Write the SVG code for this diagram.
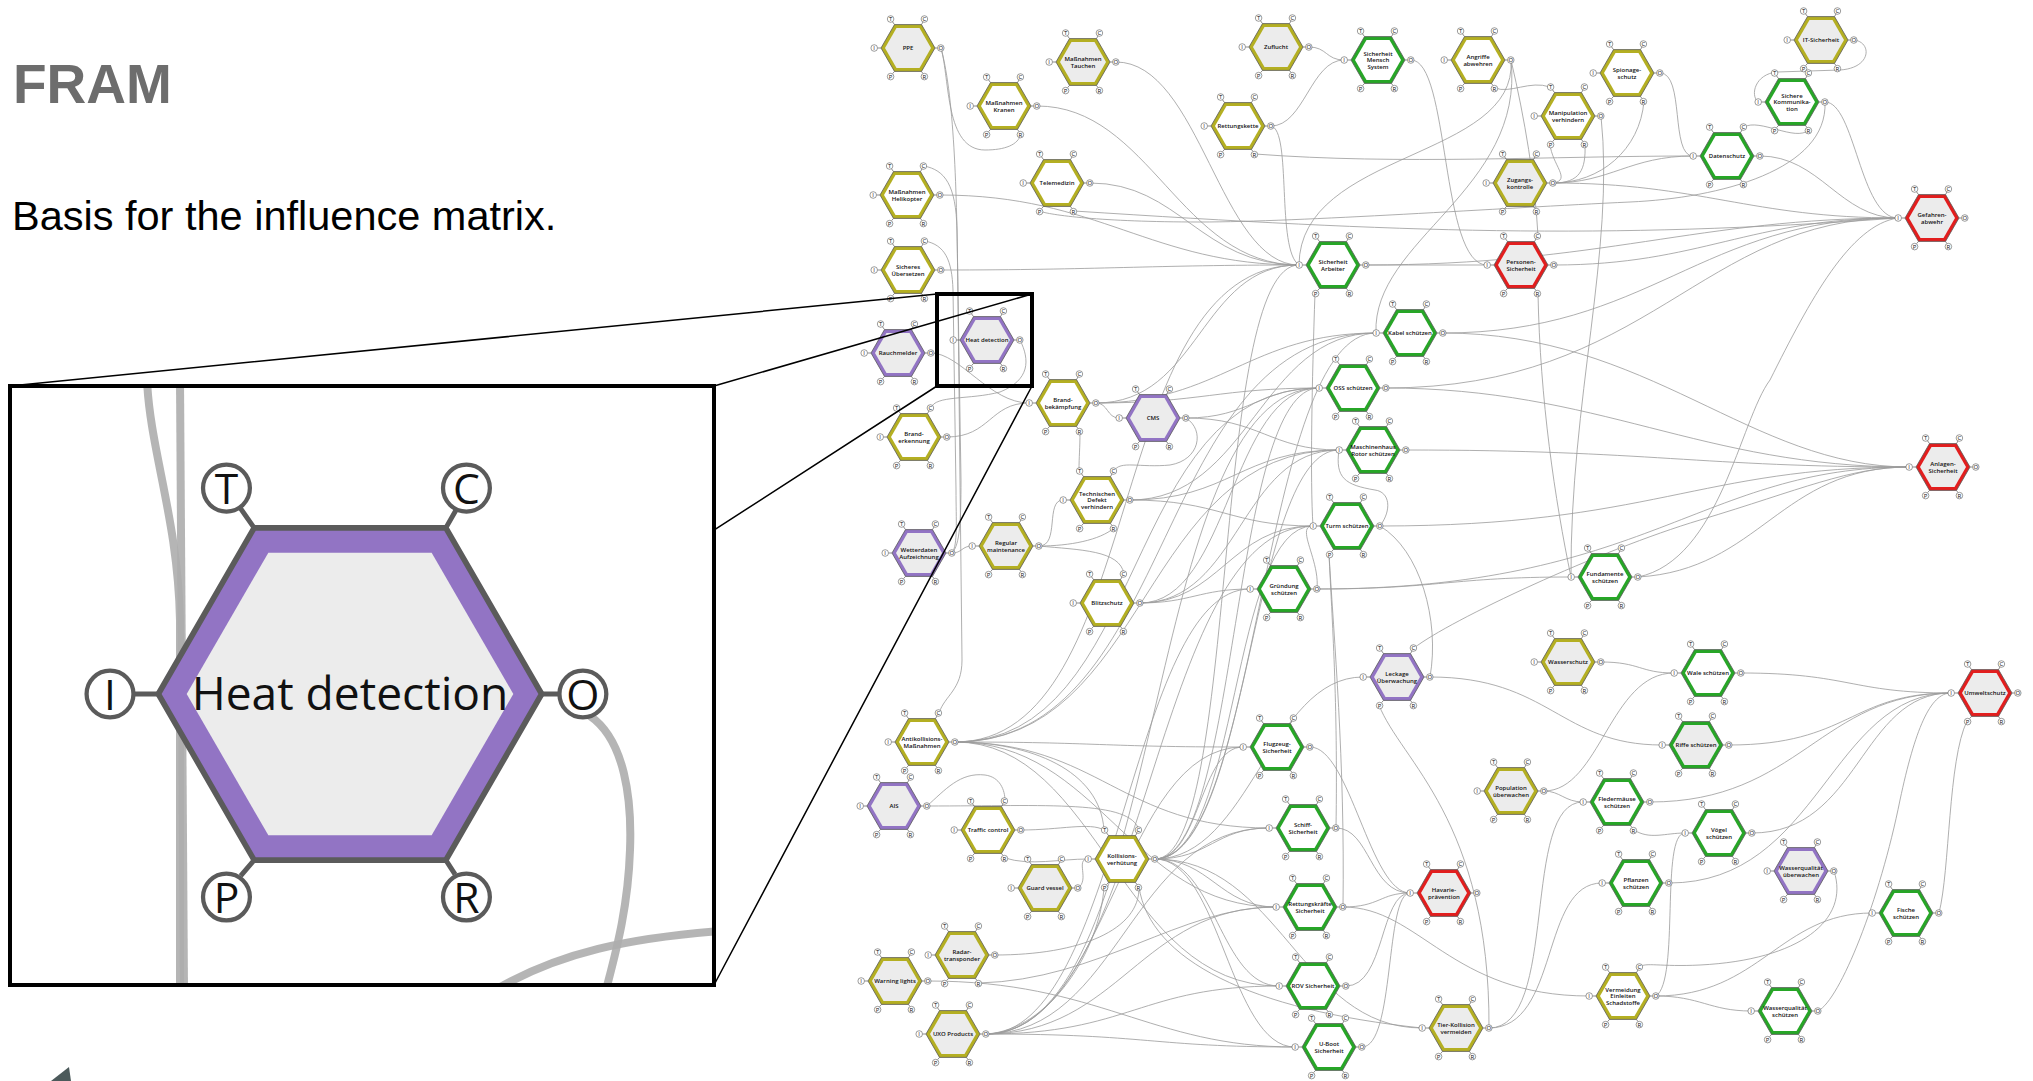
<svg xmlns="http://www.w3.org/2000/svg" xmlns:xlink="http://www.w3.org/1999/xlink" width="2033" height="1081" viewBox="0 0 2033 1081">
<style>
.y{fill:#b4af22}
.g{fill:#27a627}
.r{fill:#e21e1e}
.p{fill:#9274c4}
.f0{fill:#ececec}
.f1{fill:#ffffff}
.lb{font-family:"Open Sans","DejaVu Sans",sans-serif;font-size:6px;font-weight:600;text-anchor:middle;fill:#111}
.edges path{fill:none;stroke:#9c9c9c;stroke-width:.9;opacity:.9}
.mag{stroke:#000;fill:none}
.inset-edges path{fill:none;stroke:#adadad;stroke-width:8;opacity:.9}
</style>
<defs>
  <!-- function hexagon: outer band and inner face -->
  <path id="ho" d="M-27 0L-13.5-23.4H13.5L27 0L13.5 23.4H-13.5Z" stroke="#5b5b5b" stroke-width=".8" stroke-linejoin="round"/>
  <path id="hi" d="M-23 0L-11.5-19.9H11.5L23 0L11.5 19.9H-11.5Z"/>
  <!-- the six aspects: T C I O P R -->
  <g id="pt">
    <path d="M-27 0H-30.5M27 0H29.5M-13.5-23.4L-15.6-26.4M13.5-23.4L15.1-26.2M-13.5 23.4L-15.4 25.6M13.5 23.4L14.8 25.4" fill="none" stroke="#5b5b5b" stroke-width=".7"/>
    <g fill="#fff" stroke="#5b5b5b" stroke-width=".6">
      <circle cx="-17.4" cy="-29" r="3.3"/><circle cx="16.4" cy="-29" r="3.3"/>
      <circle cx="-33.8" cy="0" r="3.3"/><circle cx="32.8" cy="0" r="3.3"/>
      <circle cx="-17.4" cy="28.6" r="3.3"/><circle cx="16.4" cy="28.6" r="3.3"/>
    </g>
    <g font-family="Open Sans, DejaVu Sans, sans-serif" font-size="6" text-anchor="middle" fill="#111">
      <text x="-17.4" y="-26.8">T</text><text x="16.4" y="-26.8">C</text>
      <text x="-33.8" y="2.2">I</text><text x="32.8" y="2.2">O</text>
      <text x="-17.4" y="30.8">P</text><text x="16.4" y="30.8">R</text>
    </g>
  </g>
  <clipPath id="insetClip"><rect x="10" y="386" width="704" height="599"/></clipPath>
</defs>

<rect width="2033" height="1081" fill="#fff"/>

<text x="13" y="103" font-family="Liberation Sans, Arial, sans-serif" font-size="55" font-weight="bold" fill="#6d6d6d">FRAM</text>
<text x="12" y="230" font-family="Liberation Sans, Arial, sans-serif" font-size="41.5" fill="#000">Basis for the influence matrix.</text>

<g id="connectors" class="edges">
<path d="M1309 47C1327 47 1326 60 1344 60"/>
<path d="M1271 126C1304 126 1311 60 1344 60"/>
<path d="M1271 126C1292 130 1276 250 1299 265"/>
<path d="M1411 60C1450 60 1440 265 1487 265"/>
<path d="M1511 60C1525 190 1372 240 1376 333"/>
<path d="M1511 60C1518 160 1300 150 1299 265"/>
<path d="M1511 60C1525 120 1535 180 1538 236"/>
<path d="M1495 88C1510 94 1530 80 1550 87"/>
<path d="M1553 183C1572 180 1552 165 1550 144"/>
<path d="M1553 183C1580 183 1586 170 1585 144"/>
<path d="M1553 183C1610 183 1630 156 1693 156"/>
<path d="M1553 183C1600 183 1640 150 1644 101"/>
<path d="M1553 183C1700 183 1750 218 1898 218"/>
<path d="M1660 73C1685 73 1670 156 1693 156"/>
<path d="M1760 156C1820 156 1840 218 1898 218"/>
<path d="M1825 102C1855 102 1860 218 1898 218"/>
<path d="M1825 102C1828 170 1720 198 1630 202C1500 208 1300 222 1200 222C1100 222 1050 215 1039 211"/>
<path d="M1809 130C1795 142 1760 118 1744 127"/>
<path d="M1854 40C1872 42 1872 68 1840 70L1777 72C1755 74 1750 95 1758 102"/>
<path d="M1601 116C1615 250 1570 400 1571 577"/>
<path d="M1538 293C1540 400 1555 500 1571 577"/>
<path d="M1366 265L1487 265"/>
<path d="M1366 265C1600 265 1700 218 1898 218"/>
<path d="M1554 265C1700 265 1750 218 1898 218"/>
<path d="M1443 333C1650 333 1700 218 1898 218"/>
<path d="M1386 388C1650 388 1700 218 1898 218"/>
<path d="M1074 211C1400 232 1600 240 1898 218"/>
<path d="M1638 577C1720 560 1740 420 1770 380C1810 300 1850 225 1898 218"/>
<path d="M1638 577C1760 570 1780 467 1909 467"/>
<path d="M1443 333C1650 333 1750 467 1909 467"/>
<path d="M1386 388C1600 388 1700 467 1909 467"/>
<path d="M1406 450C1650 450 1700 467 1909 467"/>
<path d="M1380 526C1650 526 1700 467 1909 467"/>
<path d="M1317 589C1650 589 1700 467 1909 467"/>
<path d="M1317 589C1440 589 1450 577 1571 577"/>
<path d="M1380 526C1392 510 1390 492 1375 490C1345 485 1335 478 1339 450"/>
<path d="M1380 526C1420 550 1440 620 1430 677"/>
<path d="M1317 589C1320 560 1295 526 1313 526"/>
<path d="M1315 293C1312 380 1310 480 1313 526"/>
<path d="M1336 828C1338 700 1332 620 1329 554"/>
<path d="M1343 907C1345 760 1334 640 1329 554"/>
<path d="M941 48C950 80 945 150 985 150C1005 150 1018 145 1021 134"/>
<path d="M941 48C955 100 957 200 958 300L962 660C962 690 945 695 939 713"/>
<path d="M952 553C960 545 961 520 961 480L957 230C956 185 945 170 924 166"/>
<path d="M952 553C958 545 956 520 956 490L953 290C952 260 945 245 925 241"/>
<path d="M952 553C962 553 962 546 972 546"/>
<path d="M1116 62C1200 62 1220 265 1299 265"/>
<path d="M1037 106C1150 106 1180 265 1299 265"/>
<path d="M1090 183C1180 183 1200 265 1299 265"/>
<path d="M940 195C1100 195 1150 265 1299 265"/>
<path d="M941 270C1100 270 1150 265 1299 265"/>
<path d="M1255 154C1400 165 1550 156 1693 156"/>
<path d="M1020 340C1030 360 1030 380 1000 392C970 400 935 395 931 408"/>
<path d="M931 353C960 353 990 403 1029 403"/>
<path d="M947 437C990 437 990 403 1029 403"/>
<path d="M1096 403C1108 403 1107 418 1119 418"/>
<path d="M1096 403C1200 403 1220 388 1319 388"/>
<path d="M1096 403C1220 403 1250 333 1376 333"/>
<path d="M1096 403C1200 403 1200 265 1299 265"/>
<path d="M1080 431C1080 450 1079 455 1079 471"/>
<path d="M1186 418C1205 430 1200 460 1170 465C1140 468 1120 460 1114 471"/>
<path d="M1186 418C1250 418 1260 388 1319 388"/>
<path d="M1186 418C1260 418 1270 450 1339 450"/>
<path d="M1130 500C1230 500 1240 450 1339 450"/>
<path d="M1130 500C1220 500 1230 526 1313 526"/>
<path d="M1130 500C1250 500 1260 333 1376 333"/>
<path d="M1039 546C1060 546 1045 500 1063 500"/>
<path d="M1039 546C1070 546 1100 540 1114 528"/>
<path d="M1039 546C1080 550 1120 550 1124 574"/>
<path d="M1140 603C1220 603 1230 526 1313 526"/>
<path d="M1140 603C1190 603 1200 589 1250 589"/>
<path d="M1140 603C1230 603 1230 388 1319 388"/>
<path d="M1140 603C1240 603 1240 450 1339 450"/>
<path d="M955 742C1150 742 1120 388 1319 388"/>
<path d="M955 742C1180 742 1150 333 1376 333"/>
<path d="M955 742C1150 742 1100 265 1299 265"/>
<path d="M955 742C1100 742 1120 828 1269 828"/>
<path d="M955 742C1030 742 1100 770 1104 830"/>
<path d="M955 742C1100 742 1100 747 1243 747"/>
<path d="M955 742C1100 742 1130 907 1276 907"/>
<path d="M955 742C1150 742 1140 450 1339 450"/>
<path d="M955 742C1100 742 1120 986 1279 986"/>
<path d="M927 806C945 790 960 772 985 775C1000 777 1005 790 1005 801"/>
<path d="M927 806C1050 806 1130 800 1139 830"/>
<path d="M1021 830C1060 830 1090 822 1104 830"/>
<path d="M1005 858C1030 866 1060 859 1088 859"/>
<path d="M1078 888C1090 880 1075 859 1088 859"/>
<path d="M995 955C1080 955 1140 930 1139 887"/>
<path d="M979 983C1100 980 1180 907 1276 907"/>
<path d="M928 981C1100 981 1150 1047 1295 1047"/>
<path d="M986 1034C1150 1034 1150 1047 1295 1047"/>
<path d="M986 1034C1130 1034 1140 986 1279 986"/>
<path d="M986 1034C1120 1034 1140 907 1276 907"/>
<path d="M986 1034C1120 1034 1130 828 1269 828"/>
<path d="M986 1034C1110 1034 1120 747 1243 747"/>
<path d="M986 1034C1150 1034 1150 526 1313 526"/>
<path d="M986 1034C1170 1034 1140 388 1319 388"/>
<path d="M986 1034C1120 1034 1130 589 1250 589"/>
<path d="M986 1034C1050 1030 1100 950 1104 887"/>
<path d="M1155 859C1240 859 1230 388 1319 388"/>
<path d="M1155 859C1260 859 1260 333 1376 333"/>
<path d="M1155 859C1250 859 1250 450 1339 450"/>
<path d="M1155 859C1240 859 1230 526 1313 526"/>
<path d="M1155 859C1240 859 1210 265 1299 265"/>
<path d="M1155 859C1200 859 1200 747 1243 747"/>
<path d="M1155 859C1210 859 1215 828 1269 828"/>
<path d="M1155 859C1210 859 1220 907 1276 907"/>
<path d="M1155 859C1215 859 1220 986 1279 986"/>
<path d="M1155 859C1220 859 1230 1047 1295 1047"/>
<path d="M1155 859C1280 859 1300 1028 1422 1028"/>
<path d="M1155 859C1250 859 1270 677 1363 677"/>
<path d="M1139 887C1150 960 1250 1010 1422 1028"/>
<path d="M1310 747C1350 747 1370 893 1410 893"/>
<path d="M1336 828C1370 828 1370 893 1410 893"/>
<path d="M1343 907C1380 907 1380 893 1410 893"/>
<path d="M1346 986C1385 986 1380 893 1410 893"/>
<path d="M1362 1047C1395 1047 1385 893 1410 893"/>
<path d="M1343 907C1420 907 1450 996 1589 996"/>
<path d="M1489 1028C1560 1028 1540 883 1602 883"/>
<path d="M1489 1028C1560 1028 1520 802 1583 802"/>
<path d="M1489 1028C1490 820 1400 760 1379 705"/>
<path d="M1544 791C1560 791 1565 802 1583 802"/>
<path d="M1544 791C1600 791 1610 673 1674 673"/>
<path d="M1601 662C1640 662 1640 673 1674 673"/>
<path d="M1430 677C1550 677 1560 745 1662 745"/>
<path d="M1414 648C1450 620 1600 550 1700 520C1800 490 1850 467 1909 467"/>
<path d="M1741 673C1850 673 1850 693 1951 693"/>
<path d="M1729 745C1850 745 1850 693 1951 693"/>
<path d="M1650 802C1800 802 1820 693 1951 693"/>
<path d="M1752 833C1860 833 1860 693 1951 693"/>
<path d="M1669 883C1820 883 1830 693 1951 693"/>
<path d="M1818 1011C1840 1000 1880 900 1900 800C1915 730 1930 693 1951 693"/>
<path d="M1939 913C1950 870 1948 760 1967 721"/>
<path d="M1656 996C1680 980 1660 833 1685 833"/>
<path d="M1656 996C1700 996 1710 1011 1751 1011"/>
<path d="M1656 996C1760 996 1780 913 1872 913"/>
<path d="M1834 871C1850 920 1800 960 1700 965C1660 967 1645 962 1640 967"/>
<path d="M1634 830C1650 840 1665 833 1685 833"/>
</g>

<g id="nodes">
<g id="node-ppe" transform="translate(908 48)"><use href="#ho" class="y"/><use href="#hi" class="f0"/><use href="#pt"/><text class="lb" y="2">PPE</text></g>
<g id="node-massnahmen-tauchen" transform="translate(1083 62)"><use href="#ho" class="y"/><use href="#hi" class="f0"/><use href="#pt"/><text class="lb"><tspan x="0" y="-1.5">Maßnahmen</tspan><tspan x="0" y="5.5">Tauchen</tspan></text></g>
<g id="node-zuflucht" transform="translate(1276 47)"><use href="#ho" class="y"/><use href="#hi" class="f0"/><use href="#pt"/><text class="lb" y="2">Zuflucht</text></g>
<g id="node-sicherheit-mensch" transform="translate(1378 60)"><use href="#ho" class="g"/><use href="#hi" class="f1"/><use href="#pt"/><text class="lb"><tspan x="0" y="-4.5">Sicherheit</tspan><tspan x="0" y="2">Mensch</tspan><tspan x="0" y="8.5">System</tspan></text></g>
<g id="node-angriffe" transform="translate(1478 60)"><use href="#ho" class="y"/><use href="#hi" class="f1"/><use href="#pt"/><text class="lb"><tspan x="0" y="-1.5">Angriffe</tspan><tspan x="0" y="5.5">abwehren</tspan></text></g>
<g id="node-spionageschutz" transform="translate(1627 73)"><use href="#ho" class="y"/><use href="#hi" class="f1"/><use href="#pt"/><text class="lb"><tspan x="0" y="-1.5">Spionage-</tspan><tspan x="0" y="5.5">schutz</tspan></text></g>
<g id="node-it-sicherheit" transform="translate(1821 40)"><use href="#ho" class="y"/><use href="#hi" class="f0"/><use href="#pt"/><text class="lb" y="2">IT-Sicherheit</text></g>
<g id="node-sichere-kommunikation" transform="translate(1792 102)"><use href="#ho" class="g"/><use href="#hi" class="f1"/><use href="#pt"/><text class="lb"><tspan x="0" y="-4.5">Sichere</tspan><tspan x="0" y="2">Kommunika-</tspan><tspan x="0" y="8.5">tion</tspan></text></g>
<g id="node-datenschutz" transform="translate(1727 156)"><use href="#ho" class="g"/><use href="#hi" class="f1"/><use href="#pt"/><text class="lb" y="2">Datenschutz</text></g>
<g id="node-manipulation" transform="translate(1568 116)"><use href="#ho" class="y"/><use href="#hi" class="f1"/><use href="#pt"/><text class="lb"><tspan x="0" y="-1.5">Manipulation</tspan><tspan x="0" y="5.5">verhindern</tspan></text></g>
<g id="node-zugangskontrolle" transform="translate(1520 183)"><use href="#ho" class="y"/><use href="#hi" class="f0"/><use href="#pt"/><text class="lb"><tspan x="0" y="-1.5">Zugangs-</tspan><tspan x="0" y="5.5">kontrolle</tspan></text></g>
<g id="node-massnahmen-kranen" transform="translate(1004 106)"><use href="#ho" class="y"/><use href="#hi" class="f1"/><use href="#pt"/><text class="lb"><tspan x="0" y="-1.5">Maßnahmen</tspan><tspan x="0" y="5.5">Kranen</tspan></text></g>
<g id="node-rettungskette" transform="translate(1238 126)"><use href="#ho" class="y"/><use href="#hi" class="f1"/><use href="#pt"/><text class="lb" y="2">Rettungskette</text></g>
<g id="node-telemedizin" transform="translate(1057 183)"><use href="#ho" class="y"/><use href="#hi" class="f1"/><use href="#pt"/><text class="lb" y="2">Telemedizin</text></g>
<g id="node-massnahmen-helikopter" transform="translate(907 195)"><use href="#ho" class="y"/><use href="#hi" class="f1"/><use href="#pt"/><text class="lb"><tspan x="0" y="-1.5">Maßnahmen</tspan><tspan x="0" y="5.5">Helikopter</tspan></text></g>
<g id="node-sicheres-uebersetzen" transform="translate(908 270)"><use href="#ho" class="y"/><use href="#hi" class="f1"/><use href="#pt"/><text class="lb"><tspan x="0" y="-1.5">Sicheres</tspan><tspan x="0" y="5.5">Übersetzen</tspan></text></g>
<g id="node-sicherheit-arbeiter" transform="translate(1333 265)"><use href="#ho" class="g"/><use href="#hi" class="f1"/><use href="#pt"/><text class="lb"><tspan x="0" y="-1.5">Sicherheit</tspan><tspan x="0" y="5.5">Arbeiter</tspan></text></g>
<g id="node-personen-sicherheit" transform="translate(1521 265)"><use href="#ho" class="r"/><use href="#hi" class="f0"/><use href="#pt"/><text class="lb"><tspan x="0" y="-1.5">Personen-</tspan><tspan x="0" y="5.5">Sicherheit</tspan></text></g>
<g id="node-gefahrenabwehr" transform="translate(1932 218)"><use href="#ho" class="r"/><use href="#hi" class="f0"/><use href="#pt"/><text class="lb"><tspan x="0" y="-1.5">Gefahren-</tspan><tspan x="0" y="5.5">abwehr</tspan></text></g>
<g id="node-rauchmelder" transform="translate(898 353)"><use href="#ho" class="p"/><use href="#hi" class="f0"/><use href="#pt"/><text class="lb" y="2">Rauchmelder</text></g>
<g id="node-heat-detection" transform="translate(987 340)"><use href="#ho" class="p"/><use href="#hi" class="f0"/><use href="#pt"/><text class="lb" y="2">Heat detection</text></g>
<g id="node-kabel" transform="translate(1410 333)"><use href="#ho" class="g"/><use href="#hi" class="f1"/><use href="#pt"/><text class="lb" y="2">Kabel schützen</text></g>
<g id="node-oss" transform="translate(1353 388)"><use href="#ho" class="g"/><use href="#hi" class="f1"/><use href="#pt"/><text class="lb" y="2">OSS schützen</text></g>
<g id="node-brandbekaempfung" transform="translate(1063 403)"><use href="#ho" class="y"/><use href="#hi" class="f1"/><use href="#pt"/><text class="lb"><tspan x="0" y="-1.5">Brand-</tspan><tspan x="0" y="5.5">bekämpfung</tspan></text></g>
<g id="node-cms" transform="translate(1153 418)"><use href="#ho" class="p"/><use href="#hi" class="f0"/><use href="#pt"/><text class="lb" y="2">CMS</text></g>
<g id="node-branderkennung" transform="translate(914 437)"><use href="#ho" class="y"/><use href="#hi" class="f1"/><use href="#pt"/><text class="lb"><tspan x="0" y="-1.5">Brand-</tspan><tspan x="0" y="5.5">erkennung</tspan></text></g>
<g id="node-maschinenhaus" transform="translate(1373 450)"><use href="#ho" class="g"/><use href="#hi" class="f1"/><use href="#pt"/><text class="lb"><tspan x="0" y="-1.5">Maschinenhaus</tspan><tspan x="0" y="5.5">Rotor schützen</tspan></text></g>
<g id="node-anlagen-sicherheit" transform="translate(1943 467)"><use href="#ho" class="r"/><use href="#hi" class="f0"/><use href="#pt"/><text class="lb"><tspan x="0" y="-1.5">Anlagen-</tspan><tspan x="0" y="5.5">Sicherheit</tspan></text></g>
<g id="node-technischer-defekt" transform="translate(1097 500)"><use href="#ho" class="y"/><use href="#hi" class="f1"/><use href="#pt"/><text class="lb"><tspan x="0" y="-4.5">Technischen</tspan><tspan x="0" y="2">Defekt</tspan><tspan x="0" y="8.5">verhindern</tspan></text></g>
<g id="node-turm" transform="translate(1347 526)"><use href="#ho" class="g"/><use href="#hi" class="f1"/><use href="#pt"/><text class="lb" y="2">Turm schützen</text></g>
<g id="node-wetterdaten" transform="translate(919 553)"><use href="#ho" class="p"/><use href="#hi" class="f0"/><use href="#pt"/><text class="lb"><tspan x="0" y="-1.5">Wetterdaten</tspan><tspan x="0" y="5.5">Aufzeichnung</tspan></text></g>
<g id="node-maintenance" transform="translate(1006 546)"><use href="#ho" class="y"/><use href="#hi" class="f0"/><use href="#pt"/><text class="lb"><tspan x="0" y="-1.5">Regular</tspan><tspan x="0" y="5.5">maintenance</tspan></text></g>
<g id="node-blitzschutz" transform="translate(1107 603)"><use href="#ho" class="y"/><use href="#hi" class="f1"/><use href="#pt"/><text class="lb" y="2">Blitzschutz</text></g>
<g id="node-gruendung" transform="translate(1284 589)"><use href="#ho" class="g"/><use href="#hi" class="f1"/><use href="#pt"/><text class="lb"><tspan x="0" y="-1.5">Gründung</tspan><tspan x="0" y="5.5">schützen</tspan></text></g>
<g id="node-fundamente" transform="translate(1605 577)"><use href="#ho" class="g"/><use href="#hi" class="f1"/><use href="#pt"/><text class="lb"><tspan x="0" y="-1.5">Fundamente</tspan><tspan x="0" y="5.5">schützen</tspan></text></g>
<g id="node-leckage" transform="translate(1397 677)"><use href="#ho" class="p"/><use href="#hi" class="f0"/><use href="#pt"/><text class="lb"><tspan x="0" y="-1.5">Leckage</tspan><tspan x="0" y="5.5">Überwachung</tspan></text></g>
<g id="node-wasserschutz" transform="translate(1568 662)"><use href="#ho" class="y"/><use href="#hi" class="f0"/><use href="#pt"/><text class="lb" y="2">Wasserschutz</text></g>
<g id="node-wale" transform="translate(1708 673)"><use href="#ho" class="g"/><use href="#hi" class="f1"/><use href="#pt"/><text class="lb" y="2">Wale schützen</text></g>
<g id="node-umweltschutz" transform="translate(1985 693)"><use href="#ho" class="r"/><use href="#hi" class="f0"/><use href="#pt"/><text class="lb" y="2">Umweltschutz</text></g>
<g id="node-antikollision" transform="translate(922 742)"><use href="#ho" class="y"/><use href="#hi" class="f1"/><use href="#pt"/><text class="lb"><tspan x="0" y="-1.5">Antikollisions-</tspan><tspan x="0" y="5.5">Maßnahmen</tspan></text></g>
<g id="node-flugzeug" transform="translate(1277 747)"><use href="#ho" class="g"/><use href="#hi" class="f1"/><use href="#pt"/><text class="lb"><tspan x="0" y="-1.5">Flugzeug-</tspan><tspan x="0" y="5.5">Sicherheit</tspan></text></g>
<g id="node-ais" transform="translate(894 806)"><use href="#ho" class="p"/><use href="#hi" class="f0"/><use href="#pt"/><text class="lb" y="2">AIS</text></g>
<g id="node-traffic-control" transform="translate(988 830)"><use href="#ho" class="y"/><use href="#hi" class="f1"/><use href="#pt"/><text class="lb" y="2">Traffic control</text></g>
<g id="node-riffe" transform="translate(1696 745)"><use href="#ho" class="g"/><use href="#hi" class="f0"/><use href="#pt"/><text class="lb" y="2">Riffe schützen</text></g>
<g id="node-population" transform="translate(1511 791)"><use href="#ho" class="y"/><use href="#hi" class="f0"/><use href="#pt"/><text class="lb"><tspan x="0" y="-1.5">Population</tspan><tspan x="0" y="5.5">überwachen</tspan></text></g>
<g id="node-fledermaeuse" transform="translate(1617 802)"><use href="#ho" class="g"/><use href="#hi" class="f1"/><use href="#pt"/><text class="lb"><tspan x="0" y="-1.5">Fledermäuse</tspan><tspan x="0" y="5.5">schützen</tspan></text></g>
<g id="node-schiff" transform="translate(1303 828)"><use href="#ho" class="g"/><use href="#hi" class="f1"/><use href="#pt"/><text class="lb"><tspan x="0" y="-1.5">Schiff-</tspan><tspan x="0" y="5.5">Sicherheit</tspan></text></g>
<g id="node-kollisionsverhuetung" transform="translate(1122 859)"><use href="#ho" class="y"/><use href="#hi" class="f1"/><use href="#pt"/><text class="lb"><tspan x="0" y="-1.5">Kollisions-</tspan><tspan x="0" y="5.5">verhütung</tspan></text></g>
<g id="node-voegel" transform="translate(1719 833)"><use href="#ho" class="g"/><use href="#hi" class="f1"/><use href="#pt"/><text class="lb"><tspan x="0" y="-1.5">Vögel</tspan><tspan x="0" y="5.5">schützen</tspan></text></g>
<g id="node-guard-vessel" transform="translate(1045 888)"><use href="#ho" class="y"/><use href="#hi" class="f0"/><use href="#pt"/><text class="lb" y="2">Guard vessel</text></g>
<g id="node-pflanzen" transform="translate(1636 883)"><use href="#ho" class="g"/><use href="#hi" class="f1"/><use href="#pt"/><text class="lb"><tspan x="0" y="-1.5">Pflanzen</tspan><tspan x="0" y="5.5">schützen</tspan></text></g>
<g id="node-wasserqualitaet-ueberwachen" transform="translate(1801 871)"><use href="#ho" class="p"/><use href="#hi" class="f0"/><use href="#pt"/><text class="lb"><tspan x="0" y="-1.5">Wasserqualität</tspan><tspan x="0" y="5.5">überwachen</tspan></text></g>
<g id="node-havarie" transform="translate(1444 893)"><use href="#ho" class="r"/><use href="#hi" class="f0"/><use href="#pt"/><text class="lb"><tspan x="0" y="-1.5">Havarie-</tspan><tspan x="0" y="5.5">prävention</tspan></text></g>
<g id="node-rettungskraefte" transform="translate(1310 907)"><use href="#ho" class="g"/><use href="#hi" class="f1"/><use href="#pt"/><text class="lb"><tspan x="0" y="-1.5">Rettungskräfte</tspan><tspan x="0" y="5.5">Sicherheit</tspan></text></g>
<g id="node-fische" transform="translate(1906 913)"><use href="#ho" class="g"/><use href="#hi" class="f1"/><use href="#pt"/><text class="lb"><tspan x="0" y="-1.5">Fische</tspan><tspan x="0" y="5.5">schützen</tspan></text></g>
<g id="node-radar-transponder" transform="translate(962 955)"><use href="#ho" class="y"/><use href="#hi" class="f0"/><use href="#pt"/><text class="lb"><tspan x="0" y="-1.5">Radar-</tspan><tspan x="0" y="5.5">transponder</tspan></text></g>
<g id="node-warning-lights" transform="translate(895 981)"><use href="#ho" class="y"/><use href="#hi" class="f0"/><use href="#pt"/><text class="lb" y="2">Warning lights</text></g>
<g id="node-rov" transform="translate(1313 986)"><use href="#ho" class="g"/><use href="#hi" class="f1"/><use href="#pt"/><text class="lb" y="2">ROV Sicherheit</text></g>
<g id="node-vermeidung-schadstoffe" transform="translate(1623 996)"><use href="#ho" class="y"/><use href="#hi" class="f1"/><use href="#pt"/><text class="lb"><tspan x="0" y="-4.5">Vermeidung</tspan><tspan x="0" y="2">Einleiten</tspan><tspan x="0" y="8.5">Schadstoffe</tspan></text></g>
<g id="node-wasserqualitaet-schuetzen" transform="translate(1785 1011)"><use href="#ho" class="g"/><use href="#hi" class="f1"/><use href="#pt"/><text class="lb"><tspan x="0" y="-1.5">Wasserqualität</tspan><tspan x="0" y="5.5">schützen</tspan></text></g>
<g id="node-uxo" transform="translate(953 1034)"><use href="#ho" class="y"/><use href="#hi" class="f0"/><use href="#pt"/><text class="lb" y="2">UXO Products</text></g>
<g id="node-tier-kollision" transform="translate(1456 1028)"><use href="#ho" class="y"/><use href="#hi" class="f0"/><use href="#pt"/><text class="lb"><tspan x="0" y="-1.5">Tier-Kollision</tspan><tspan x="0" y="5.5">vermeiden</tspan></text></g>
<g id="node-u-boot" transform="translate(1329 1047)"><use href="#ho" class="g"/><use href="#hi" class="f1"/><use href="#pt"/><text class="lb"><tspan x="0" y="-1.5">U-Boot</tspan><tspan x="0" y="5.5">Sicherheit</tspan></text></g>
</g>

<!-- magnifier: guide lines from the detail frame to the enlarged view -->
<g id="magnifier-lines" class="mag" stroke-width="1.5">
  <path d="M10 386L937 294M714 386L1032 294M10 985L937 386M714 985L1032 386"/>
</g>
<rect id="detail-frame" class="mag" x="937" y="294" width="95" height="92" stroke-width="4"/>

<g id="inset">
  <rect x="10" y="386" width="704" height="599" fill="#fff"/>
  <g class="inset-edges" clip-path="url(#insetClip)">
    <path d="M147 380C150 450 178 520 180 620L180 990"/>
    <path d="M180 380L184 990"/>
    <path d="M590 716C625 740 632 800 630 850C628 910 615 955 606 990"/>
    <path d="M495 990C560 952 630 938 720 931"/>
  </g>
  <g id="inset-node-heat-detection" transform="translate(350 694) scale(7.1)">
    <use href="#ho" class="p"/><use href="#hi" class="f0"/><use href="#pt"/>
    <text class="lb" y="2.3" style="font-size:6.5px;font-weight:400">Heat detection</text>
  </g>
  <rect class="mag" x="10" y="386" width="704" height="599" stroke-width="4"/>
</g>

<polygon points="51,1081 69,1067 71,1081" fill="#4c5a5b"/>
</svg>
